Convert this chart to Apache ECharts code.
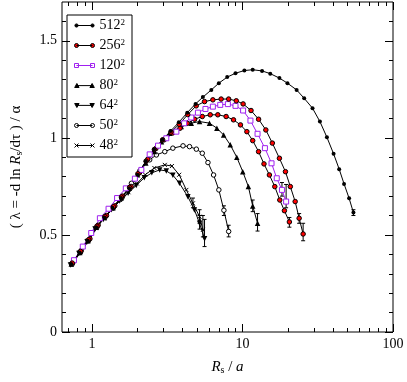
<!DOCTYPE html>
<html>
<head>
<meta charset="utf-8">
<script src="https://cdn.jsdelivr.net/npm/echarts@6/dist/echarts.min.js"></script>
<style>
  html, body { margin: 0; padding: 0; background: #fff; }
  #chart { width: 407px; height: 382px; }
</style>
</head>
<body>
<div id="chart"></div>
<script>
// tick positions (data units)
const xTicks = [1, 10, 100];
const xMinorTicks = [0.7, 0.8, 0.9, 2, 3, 4, 5, 6, 7, 8, 9, 20, 30, 40, 50, 60, 70, 80, 90];
const yTicks = [0, 0.5, 1, 1.5];
const yMinorTicks = [0.1, 0.2, 0.3, 0.4, 0.6, 0.7, 0.8, 0.9, 1.1, 1.2, 1.3, 1.4, 1.6];

// lattice sizes (legend, shown as N^2)
const sizes = ["512", "256", "120", "80", "64", "50", "48"];

// R_s / a  and  lambda / alpha for each lattice
const x512 = [0.73, 0.83, 0.94, 1.07, 1.21, 1.37, 1.56, 1.77, 2.01, 2.28, 2.59, 2.94, 3.33, 3.78, 4.30, 4.88, 5.46, 6.21, 6.97, 7.92, 8.99, 10.3, 11.7, 13.5, 15.3, 17.6, 19.9, 22.9, 25.7, 29.2, 32.7, 36.4, 40.3, 43.9, 47.3, 51.1, 54.6];
const y512 = [0.35, 0.41, 0.47, 0.54, 0.59, 0.64, 0.69, 0.74, 0.81, 0.88, 0.94, 0.99, 1.035, 1.08, 1.13, 1.175, 1.21, 1.247, 1.282, 1.313, 1.333, 1.347, 1.351, 1.345, 1.331, 1.308, 1.282, 1.247, 1.204, 1.153, 1.084, 1.003, 0.918, 0.839, 0.763, 0.689, 0.615];

const x256 = [0.74, 0.84, 0.95, 1.08, 1.22, 1.39, 1.57, 1.78, 2.02, 2.29, 2.6, 2.95, 3.35, 3.8, 4.33, 4.93, 5.6, 6.36, 7.22, 8.1, 9.1, 10.1, 11.4, 12.8, 14.3, 15.8, 17.6, 19.3, 20.8, 22.4, 23.8, 25.3];
const y256 = [0.355, 0.415, 0.475, 0.545, 0.595, 0.645, 0.695, 0.745, 0.815, 0.88, 0.94, 0.99, 1.03, 1.07, 1.12, 1.165, 1.187, 1.196, 1.2, 1.2, 1.191, 1.175, 1.141, 1.096, 1.041, 0.973, 0.895, 0.826, 0.749, 0.672, 0.586, 0.505];

// second red-dot run (same symbol as 256^2)
const x256b = [0.75, 0.85, 0.97, 1.1, 1.25, 1.42, 1.6, 1.82, 2.07, 2.35, 2.66, 3.02, 3.43, 3.85, 4.3, 4.81, 5.41, 6.11, 6.86, 7.79, 8.72, 9.7, 10.7, 11.7, 12.8, 13.9, 15.1, 16.4, 17.7, 19.0, 20.5];
const y256b = [0.36, 0.42, 0.48, 0.55, 0.6, 0.65, 0.7, 0.75, 0.82, 0.89, 0.945, 0.99, 1.025, 1.05, 1.075, 1.096, 1.11, 1.119, 1.119, 1.11, 1.093, 1.067, 1.032, 0.986, 0.929, 0.866, 0.809, 0.749, 0.68, 0.625, 0.567];

const x120 = [0.76, 0.87, 0.99, 1.13, 1.29, 1.47, 1.68, 1.93, 2.13, 2.42, 2.75, 3.12, 3.64, 4.1, 4.57, 5.06, 5.68, 6.36, 7.12, 8.0, 8.99, 10.1, 11.3, 12.6, 14.1, 15.6, 16.9, 18.3, 19.5];
const y120 = [0.37, 0.44, 0.51, 0.586, 0.635, 0.69, 0.74, 0.79, 0.835, 0.915, 0.96, 0.998, 1.032, 1.075, 1.105, 1.13, 1.149, 1.161, 1.17, 1.174, 1.165, 1.141, 1.089, 1.021, 0.947, 0.869, 0.792, 0.732, 0.672];

const x80 = [0.73, 0.83, 0.94, 1.07, 1.21, 1.38, 1.56, 1.77, 2.01, 2.28, 2.6, 2.9, 3.28, 3.92, 4.57, 5.19, 6.04, 6.76, 7.5, 8.3, 9.17, 10.05, 10.95, 11.7, 12.6];
const y80 = [0.35, 0.41, 0.47, 0.54, 0.59, 0.64, 0.69, 0.74, 0.81, 0.87, 0.93, 0.98, 1.024, 1.058, 1.076, 1.084, 1.076, 1.05, 1.015, 0.964, 0.9, 0.826, 0.749, 0.649, 0.56];

const x64 = [0.72, 0.82, 0.93, 1.05, 1.19, 1.35, 1.53, 1.74, 1.97, 2.23, 2.5, 2.82, 3.12, 3.45, 3.82, 4.34, 4.8, 5.19, 5.6];
const y64 = [0.345, 0.405, 0.465, 0.53, 0.58, 0.63, 0.675, 0.715, 0.755, 0.795, 0.82, 0.835, 0.83, 0.808, 0.766, 0.697, 0.629, 0.56, 0.48];

const x50 = [0.74, 0.84, 0.95, 1.08, 1.22, 1.39, 1.58, 1.83, 2.08, 2.42, 2.68, 3.05, 3.45, 4.03, 4.45, 4.94, 5.41, 5.9, 6.43, 6.97, 7.53, 8.1];
const y50 = [0.35, 0.41, 0.47, 0.54, 0.59, 0.64, 0.69, 0.766, 0.83, 0.887, 0.912, 0.929, 0.947, 0.959, 0.955, 0.942, 0.921, 0.873, 0.809, 0.732, 0.627, 0.518];

const x48 = [0.73, 0.83, 0.94, 1.06, 1.2, 1.36, 1.54, 1.75, 1.99, 2.26, 2.6, 3.05, 3.4, 3.8, 4.24, 4.69, 5.19, 5.46];
const y48 = [0.35, 0.41, 0.47, 0.535, 0.585, 0.635, 0.68, 0.72, 0.765, 0.81, 0.845, 0.861, 0.855, 0.81, 0.732, 0.663, 0.594, 0.526];

// error bars near the ends of the curves
const errX  = [5.6, 5.19, 5.46, 5.19, 4.69, 8.1, 7.53, 12.6, 11.7, 25.3, 23.8, 20.5, 19.5, 18.3, 54.6];
const errLo = [0.44, 0.53, 0.49, 0.56, 0.64, 0.49, 0.60, 0.52, 0.62, 0.47, 0.56, 0.54, 0.64, 0.70, 0.60];
const errHi = [0.58, 0.60, 0.60, 0.63, 0.69, 0.55, 0.65, 0.61, 0.68, 0.56, 0.61, 0.59, 0.76, 0.77, 0.63];

const SERIF = "Liberation Serif";
const VIOLET = "#a020f0";
const lg = Math.log10;

const pairs = (xs, ys) => xs.map((x, i) => [lg(x), ys[i]]);

// legend sample: a line with the marker at both ends (xmgrace style)
const ends = [2, 18];
const mk = {
  circle: c => `M${c - 2},2.5a2,2 0 1,0 4,0a2,2 0 1,0 -4,0Z`,
  dot: c => `M${c - 1.6},2.5a1.6,1.6 0 1,0 3.2,0a1.6,1.6 0 1,0 -3.2,0Z`,
  square: c => `M${c - 2},0.5L${c + 2},0.5L${c + 2},4.5L${c - 2},4.5Z`,
  up: c => `M${c},0.3L${c + 2.3},4.5L${c - 2.3},4.5Z`,
  down: c => `M${c - 2.3},0.5L${c + 2.3},0.5L${c},4.7Z`,
  cross: c => `M${c - 2},0.5L${c + 2},4.5M${c + 2},0.5L${c - 2},4.5`
};
const icon = kind => "path://M0,0.5M20,4.5M2,2.5L18,2.5" + ends.map(mk[kind]).join("");

function lineSeries(name, xs, ys, opts) {
  return Object.assign({
    name: name,
    type: "line",
    data: pairs(xs, ys),
    lineStyle: { color: "#000", width: 1 },
    itemStyle: { color: "#000" },
    symbolSize: 4,
    showSymbol: true,
    z: 3
  }, opts);
}

const xCommon = {
  type: "value",
  min: lg(0.633),
  max: 2,
  splitLine: { show: false },
  axisLine: { show: false, onZero: false }
};
const yCommon = {
  type: "value",
  min: 0,
  max: 1.7,
  splitLine: { show: false },
  axisLine: { show: false, onZero: false }
};
const tickStyle = { color: "#000", width: 1 };

const legendStyle = {
  "512": { kind: "dot", color: "#000", border: "#000" },
  "256": { kind: "circle", color: "#ff0000", border: "#000" },
  "120": { kind: "square", color: "#fff", border: VIOLET },
  "80": { kind: "up", color: "#000", border: "#000" },
  "64": { kind: "down", color: "#000", border: "#000" },
  "50": { kind: "circle", color: "#fff", border: "#000" },
  "48": { kind: "cross", color: "none", border: "#000" }
};

const chart = echarts.init(document.getElementById("chart"));

chart.setOption({
  animation: false,
  backgroundColor: "#fff",
  grid: { left: 62, right: 14, top: 2, bottom: 50, show: true, borderColor: "#000", borderWidth: 1 },
  legend: {
    left: 67,
    top: 15,
    orient: "vertical",
    data: sizes.map(s => ({
      name: s,
      icon: icon(legendStyle[s].kind),
      itemStyle: { color: legendStyle[s].color, borderColor: legendStyle[s].border, borderWidth: 1 }
    })),
    itemWidth: 20,
    itemHeight: 4,
    itemGap: 5,
    padding: [3, 7, 4, 5],
    borderColor: "#000",
    borderWidth: 1,
    selectedMode: false,
    formatter: n => n + "{sup|2}",
    textStyle: {
      fontFamily: SERIF, fontSize: 14, color: "#000", lineHeight: 15,
      rich: { sup: { fontFamily: SERIF, fontSize: 9, verticalAlign: "top", lineHeight: 9, color: "#000" } }
    }
  },
  xAxis: [
    Object.assign({}, xCommon, {
      position: "bottom",
      name: "{i|R}{sub|s} / {i|a}",
      nameLocation: "middle",
      nameGap: 28,
      nameTextStyle: {
        fontFamily: SERIF, fontSize: 15, color: "#000",
        rich: {
          i: { fontFamily: SERIF, fontStyle: "italic", fontSize: 15, color: "#000" },
          sub: { fontFamily: SERIF, fontSize: 10, verticalAlign: "bottom", lineHeight: 10, color: "#000" }
        }
      },
      axisTick: { show: true, inside: true, length: 8, lineStyle: tickStyle, customValues: xTicks.map(lg) },
      axisLabel: { show: true, margin: 5, fontFamily: SERIF, fontSize: 14, color: "#000",
        customValues: xTicks.map(lg), formatter: v => String(Math.round(Math.pow(10, v))) }
    }),
    Object.assign({}, xCommon, {
      position: "bottom",
      axisTick: { show: true, inside: true, length: 4, lineStyle: tickStyle, customValues: xMinorTicks.map(lg) },
      axisLabel: { show: false }
    }),
    Object.assign({}, xCommon, {
      position: "top",
      axisTick: { show: true, inside: true, length: 8, lineStyle: tickStyle, customValues: xTicks.map(lg) },
      axisLabel: { show: false }
    }),
    Object.assign({}, xCommon, {
      position: "top",
      axisTick: { show: true, inside: true, length: 4, lineStyle: tickStyle, customValues: xMinorTicks.map(lg) },
      axisLabel: { show: false }
    })
  ],
  yAxis: [
    Object.assign({}, yCommon, {
      position: "left",
      name: "( λ = -d ln {i|R}{sub|s}/dτ ) / α",
      nameLocation: "middle",
      nameGap: 38,
      nameRotate: 90,
      nameTextStyle: {
        fontFamily: SERIF, fontSize: 15, color: "#000",
        rich: {
          i: { fontFamily: SERIF, fontStyle: "italic", fontSize: 15, color: "#000" },
          sub: { fontFamily: SERIF, fontSize: 10, verticalAlign: "bottom", lineHeight: 10, color: "#000" }
        }
      },
      axisTick: { show: true, inside: true, length: 8, lineStyle: tickStyle, customValues: yTicks },
      axisLabel: { show: true, margin: 5, fontFamily: SERIF, fontSize: 14, color: "#000",
        customValues: yTicks, formatter: v => String(v) }
    }),
    Object.assign({}, yCommon, {
      position: "left",
      axisTick: { show: true, inside: true, length: 4, lineStyle: tickStyle, customValues: yMinorTicks },
      axisLabel: { show: false }
    }),
    Object.assign({}, yCommon, {
      position: "right",
      axisTick: { show: true, inside: true, length: 8, lineStyle: tickStyle, customValues: yTicks },
      axisLabel: { show: false }
    }),
    Object.assign({}, yCommon, {
      position: "right",
      axisTick: { show: true, inside: true, length: 4, lineStyle: tickStyle, customValues: yMinorTicks },
      axisLabel: { show: false }
    })
  ],
  series: [
    {
      name: "err",
      type: "custom",
      z: 2,
      data: errX.map((x, i) => [lg(x), errLo[i], errHi[i]]),
      renderItem: function (params, api) {
        const lo = api.coord([api.value(0), api.value(1)]);
        const hi = api.coord([api.value(0), api.value(2)]);
        const w = 2;
        return {
          type: "group",
          children: [
            { type: "line", shape: { x1: lo[0], y1: lo[1], x2: hi[0], y2: hi[1] }, style: { stroke: "#000", lineWidth: 1 } },
            { type: "line", shape: { x1: lo[0] - w, y1: lo[1], x2: lo[0] + w, y2: lo[1] }, style: { stroke: "#000", lineWidth: 1 } },
            { type: "line", shape: { x1: hi[0] - w, y1: hi[1], x2: hi[0] + w, y2: hi[1] }, style: { stroke: "#000", lineWidth: 1 } }
          ]
        };
      }
    },
    lineSeries("48", x48, y48, { symbol: "path://M0,0L10,10M10,0L0,10", symbolSize: 4,
      itemStyle: { color: "#000", borderColor: "#000", borderWidth: 1 } }),
    lineSeries("64", x64, y64, { symbol: "triangle", symbolRotate: 180, symbolSize: 5.5 }),
    lineSeries("50", x50, y50, { symbol: "circle", symbolSize: 4.5,
      itemStyle: { color: "#fff", borderColor: "#000", borderWidth: 1 } }),
    lineSeries("80", x80, y80, { symbol: "triangle", symbolSize: 5.5 }),
    lineSeries("256", x256b, y256b, { symbol: "circle", symbolSize: 4.5,
      itemStyle: { color: "#ff0000", borderColor: "#000", borderWidth: 1 } }),
    lineSeries("120", x120, y120, { symbol: "rect", symbolSize: 5,
      lineStyle: { color: VIOLET, width: 1 },
      itemStyle: { color: "#fff", borderColor: VIOLET, borderWidth: 1 } }),
    lineSeries("256", x256, y256, { symbol: "circle", symbolSize: 4.5,
      itemStyle: { color: "#ff0000", borderColor: "#000", borderWidth: 1 } }),
    lineSeries("512", x512, y512, { symbol: "circle", symbolSize: 4 })
  ]
});
</script>
</body>
</html>
